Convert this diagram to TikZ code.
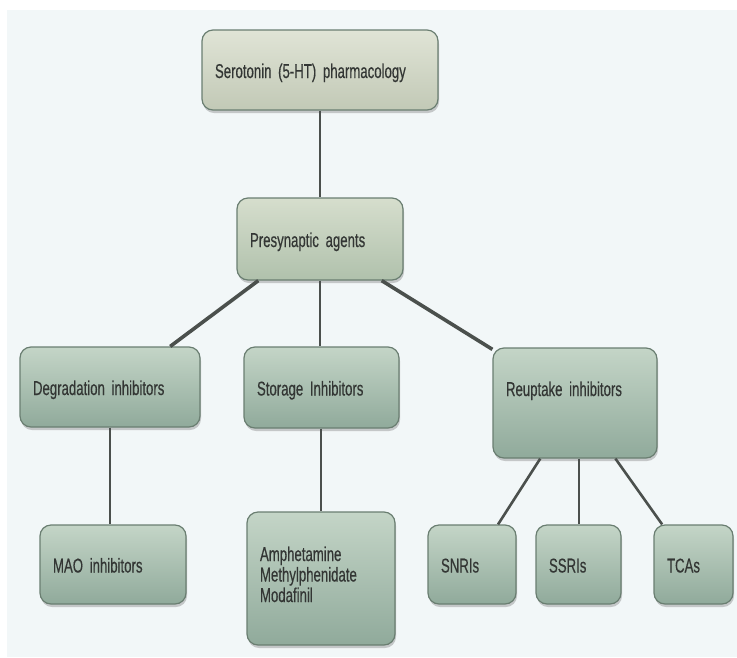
\documentclass[tikz,border=0pt]{standalone}
\usepackage{fontspec}
\setmainfont{Liberation Sans}[FakeStretch=0.66, FakeBold=0.4]
\usetikzlibrary{shadows}
\definecolor{paper}{HTML}{F2F7F8}
\definecolor{boxline}{HTML}{6A7E71}
\definecolor{linkgrey}{HTML}{4B504D}
\definecolor{txtgrey}{HTML}{333634}
\newcommand{\boxfont}{\fontsize{20}{20.5}\selectfont\spaceskip=3.6pt plus 1pt\relax}
\begin{document}
\begin{tikzpicture}[x = 1pt, y = -1pt,
		box/.style = {draw = boxline, line width = 1.2pt, rounded corners = 11pt, align = left,
			inner xsep = 13pt, inner ysep = 0pt, text height = 20pt, text depth = 4pt,
			font = \boxfont, text = txtgrey,
			drop shadow = {shadow xshift = 1pt, shadow yshift = -3pt, opacity = 0.4}},
		topbox/.style = {box, top color = {rgb,255:red,224;green,228;blue,214}, bottom color = {rgb,255:red,194;green,201;blue,182}},
		midbox/.style = {box, top color = {rgb,255:red,214;green,222;blue,205}, bottom color = {rgb,255:red,176;green,193;blue,172}},
		lowbox/.style = {box, top color = {rgb,255:red,196;green,213;blue,199}, bottom color = {rgb,255:red,144;green,170;blue,155}},
		link/.style = {draw = linkgrey, line width = 2pt},
		fatlink/.style = {draw = linkgrey, line width = 3.6pt}]
		\useasboundingbox (0,0) rectangle (737,657);
		\fill [white] (0,0) rectangle (737,657);
		\fill [paper] (7,10) rectangle (737,657);
		% boxes
		\node [topbox, minimum height = 80pt, text width = 210pt] (sero) at (320,70) {Serotonin (5-HT) pharmacology};
		\node [midbox, minimum height = 82pt, text width = 140pt] (presyn) at (320,239) {Presynaptic agents};
		\node [lowbox, minimum height = 80pt, text width = 154pt] (degr) at (110,387) {Degradation inhibitors};
		\node [lowbox, minimum height = 81pt, text width = 129pt] (stor) at (321.5,387.5) {Storage Inhibitors};
		\node [lowbox, minimum height = 110pt, text width = 138pt, text depth = 34pt] (reup) at (575,403) {Reuptake inhibitors};
		\node [lowbox, minimum height = 79pt, text width = 120pt] (mao) at (113,564.5) {MAO inhibitors};
		\node [lowbox, minimum height = 133pt, text width = 122pt, text depth = 55pt] (amph) at (321,578.5) {Amphetamine\\Methylphenidate\\Modafinil};
		\node [lowbox, minimum height = 79pt, text width = 62pt] (snri) at (472,564.5) {SNRIs};
		\node [lowbox, minimum height = 79pt, text width = 59pt] (ssri) at (578.5,564.5) {SSRIs};
		\node [lowbox, minimum height = 79pt, text width = 53pt] (tca) at (693.5,564.5) {TCAs};
		% links
		\draw [link] (sero.south) -- (sero.south |- presyn.north);
		\draw [fatlink] (presyn.214) -- (degr.34);
		\draw [link] (presyn.south) -- (presyn.south |- stor.north);
		\draw [fatlink] (presyn.326) -- (reup.147);
		\draw [link] (degr.south) -- (degr.south |- mao.north);
		\draw [link] (amph.north |- stor.south) -- (amph.north);
		\draw [link, line width = 2.6pt] (reup.238) -- (snri.57);
		\draw [link] (ssri.north |- reup.south) -- (ssri.north);
		\draw [link, line width = 2.6pt] (reup.306) -- (tca.128);
	\end{tikzpicture}
\end{document}
